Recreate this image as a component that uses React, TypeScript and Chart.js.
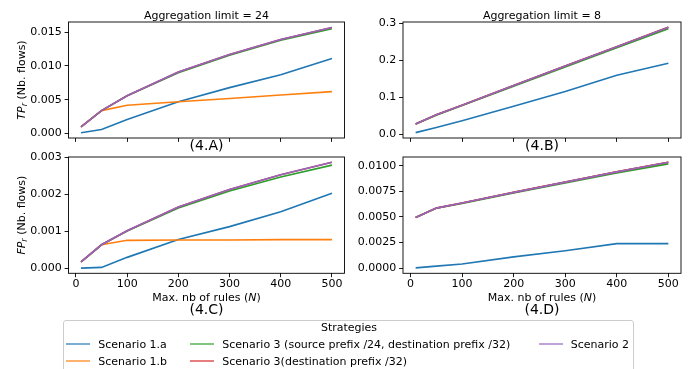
import React, { useEffect, useRef } from "react";
import { Chart, registerables } from "chart.js";

Chart.register(...registerables);

const FONT = "'DejaVu Sans', sans-serif";

// ---------- data ----------
const xValues = [10, 50, 100, 200, 300, 400, 500];
const xTicks = [0, 100, 200, 300, 400, 500];
const xTickLabels = ["0", "100", "200", "300", "400", "500"];

const seriesNames = [
  "Scenario 1.a",
  "Scenario 1.b",
  "Scenario 3 (source prefix /24, destination prefix /32)",
  "Scenario 3(destination prefix /32)",
  "Scenario 2",
];
const seriesColors = ["#1f77b4", "#ff7f0e", "#2ca02c", "#d62728", "#9467bd"];

// (4.A) TP_r, aggregation limit = 24
const tpA_s1a = [0.00012, 0.0006, 0.0021, 0.0047, 0.0068, 0.0087, 0.0111];
const tpA_s1b = [0.001, 0.0034, 0.0042, 0.0047, 0.0052, 0.0057, 0.0062];
const tpA_s3src = [0.001, 0.0034, 0.0056, 0.009, 0.0116, 0.0138, 0.0155];
const tpA_s3dst = [0.001, 0.0034, 0.0056, 0.0091, 0.0117, 0.0139, 0.0157];
const tpA_s2 = [0.001, 0.0034, 0.0056, 0.0091, 0.0117, 0.0139, 0.0157];

// (4.B) TP_r, aggregation limit = 8
const tpB_s1a = [0.005, 0.019, 0.037, 0.076, 0.116, 0.16, 0.192];
const tpB_s1b = [0.028, 0.053, 0.079, 0.132, 0.185, 0.237, 0.289];
const tpB_s3src = [0.028, 0.052, 0.078, 0.13, 0.182, 0.234, 0.285];
const tpB_s3dst = [0.028, 0.053, 0.079, 0.132, 0.185, 0.237, 0.289];
const tpB_s2 = [0.028, 0.053, 0.079, 0.132, 0.185, 0.237, 0.289];

// (4.C) FP_r, aggregation limit = 24
const fpC_s1a = [0.0, 0.00002, 0.00029, 0.00077, 0.00112, 0.00152, 0.00202];
const fpC_s1b = [0.00017, 0.00063, 0.00075, 0.00076, 0.00076, 0.00077, 0.00077];
const fpC_s3src = [0.00017, 0.00063, 0.001, 0.00162, 0.00208, 0.00246, 0.00278];
const fpC_s3dst = [0.00017, 0.00063, 0.00101, 0.00165, 0.00212, 0.00252, 0.00286];
const fpC_s2 = [0.00017, 0.00063, 0.00101, 0.00165, 0.00212, 0.00252, 0.00286];

// (4.D) FP_r, aggregation limit = 8
const fpD_s1a = [0.00003, 0.0002, 0.0004, 0.0011, 0.0017, 0.0024, 0.0024];
const fpD_s1b = [0.00495, 0.00586, 0.00636, 0.0074, 0.0084, 0.0094, 0.01033];
const fpD_s3src = [0.00495, 0.00584, 0.00632, 0.00734, 0.00832, 0.00928, 0.01018];
const fpD_s3dst = [0.00495, 0.00586, 0.00636, 0.0074, 0.0084, 0.0094, 0.01033];
const fpD_s2 = [0.00495, 0.00586, 0.00636, 0.0074, 0.0084, 0.0094, 0.01033];

const yTicksA = [0, 0.005, 0.01, 0.015];
const yTickLabelsA = ["0.000", "0.005", "0.010", "0.015"];
const yTicksB = [0, 0.1, 0.2, 0.3];
const yTickLabelsB = ["0.0", "0.1", "0.2", "0.3"];
const yTicksC = [0, 0.001, 0.002, 0.003];
const yTickLabelsC = ["0.000", "0.001", "0.002", "0.003"];
const yTicksD = [0, 0.0025, 0.005, 0.0075, 0.01];
const yTickLabelsD = ["0.0000", "0.0025", "0.0050", "0.0075", "0.0100"];

const titleA = "Aggregation limit = 24";
const titleB = "Aggregation limit = 8";
const xAxisLabel = "Max. nb of rules (";
const xAxisLabelVar = "N";
const legendTitle = "Strategies";

// ---------- layout ----------
type Panel = {
  key: string;
  cl: number; ct: number; cw: number; ch: number;
  pl: number; pr: number; pt: number; pb: number;
  series: number[][];
  yMin: number; yMax: number; yTicks: number[]; yTickLabels: string[];
  showXTickLabels: boolean;
  title?: string;
  yLabelMain?: string;
  showXLabel: boolean;
  panelLabel: string;
  panelLabelBaseline: number;
};

const X_MIN = -14.5;
const X_MAX = 524.5;

const panels: Panel[] = [
  {
    key: "A", cl: 0, ct: 0, cw: 360, ch: 152,
    pl: 68.5, pr: 344.5, pt: 22, pb: 138,
    series: [tpA_s1a, tpA_s1b, tpA_s3src, tpA_s3dst, tpA_s2],
    yMin: -0.00065, yMax: 0.0165, yTicks: yTicksA, yTickLabels: yTickLabelsA,
    showXTickLabels: false, title: titleA, yLabelMain: "TP", showXLabel: false,
    panelLabel: "(4.A)", panelLabelBaseline: 150,
  },
  {
    key: "B", cl: 345, ct: 0, cw: 346, ch: 152,
    pl: 403, pr: 681, pt: 22, pb: 138,
    series: [tpB_s1a, tpB_s1b, tpB_s3src, tpB_s3dst, tpB_s2],
    yMin: -0.0095, yMax: 0.3035, yTicks: yTicksB, yTickLabels: yTickLabelsB,
    showXTickLabels: false, title: titleB, showXLabel: false,
    panelLabel: "(4.B)", panelLabelBaseline: 150,
  },
  {
    key: "C", cl: 0, ct: 140, cw: 360, ch: 180,
    pl: 68.5, pr: 344.5, pt: 157, pb: 273.3,
    series: [fpC_s1a, fpC_s1b, fpC_s3src, fpC_s3dst, fpC_s2],
    yMin: -0.00014, yMax: 0.003, yTicks: yTicksC, yTickLabels: yTickLabelsC,
    showXTickLabels: true, yLabelMain: "FP", showXLabel: true,
    panelLabel: "(4.C)", panelLabelBaseline: 313.5,
  },
  {
    key: "D", cl: 345, ct: 140, cw: 346, ch: 180,
    pl: 403, pr: 681, pt: 157, pb: 273.3,
    series: [fpD_s1a, fpD_s1b, fpD_s3src, fpD_s3dst, fpD_s2],
    yMin: -0.0005, yMax: 0.01085, yTicks: yTicksD, yTickLabels: yTickLabelsD,
    showXTickLabels: true, showXLabel: true,
    panelLabel: "(4.D)", panelLabelBaseline: 313.5,
  },
];

function drawYLabel(ctx: CanvasRenderingContext2D, main: string, x: number, y: number) {
  ctx.save();
  ctx.translate(x, y);
  ctx.rotate(-Math.PI / 2);
  const fMain = `italic 11px ${FONT}`;
  const fSub = `italic 8px ${FONT}`;
  const fRest = `11px ${FONT}`;
  const rest = " (Nb. flows)";
  ctx.font = fMain;
  const w1 = ctx.measureText(main).width;
  ctx.font = fSub;
  const w2 = ctx.measureText("r").width;
  ctx.font = fRest;
  const w3 = ctx.measureText(rest).width;
  let cx = -(w1 + w2 + w3) / 2;
  ctx.textAlign = "left";
  ctx.textBaseline = "alphabetic";
  ctx.fillStyle = "#000";
  ctx.font = fMain;
  ctx.fillText(main, cx, 0);
  cx += w1;
  ctx.font = fSub;
  ctx.fillText("r", cx, 2.2);
  cx += w2;
  ctx.font = fRest;
  ctx.fillText(rest, cx, 0);
  ctx.restore();
}

function drawXLabel(ctx: CanvasRenderingContext2D, cx: number, y: number) {
  const fR = `11px ${FONT}`;
  const fI = `italic 11px ${FONT}`;
  ctx.font = fR;
  const w1 = ctx.measureText(xAxisLabel).width;
  const w3 = ctx.measureText(")").width;
  ctx.font = fI;
  const w2 = ctx.measureText(xAxisLabelVar).width;
  let x = cx - (w1 + w2 + w3) / 2;
  ctx.textAlign = "left";
  ctx.textBaseline = "alphabetic";
  ctx.fillStyle = "#000";
  ctx.font = fR;
  ctx.fillText(xAxisLabel, x, y);
  x += w1;
  ctx.font = fI;
  ctx.fillText(xAxisLabelVar, x, y);
  x += w2;
  ctx.font = fR;
  ctx.fillText(")", x, y);
}

function PanelChart({ p }: { p: Panel }) {
  const ref = useRef<HTMLCanvasElement | null>(null);
  useEffect(() => {
    if (!ref.current) return;
    const decor = {
      id: "decor" + p.key,
      afterDraw(chart: any) {
        const ctx: CanvasRenderingContext2D = chart.ctx;
        const a = chart.chartArea;
        ctx.save();
        ctx.strokeStyle = "#000";
        ctx.lineWidth = 0.9;
        ctx.strokeRect(a.left, a.top, a.right - a.left, a.bottom - a.top);
        const cx = (a.left + a.right) / 2;
        ctx.fillStyle = "#000";
        ctx.textAlign = "center";
        ctx.textBaseline = "alphabetic";
        if (p.title) {
          ctx.font = `11px ${FONT}`;
          ctx.fillText(p.title, cx, 18.5 - p.ct);
        }
        ctx.font = `14px ${FONT}`;
        ctx.textAlign = "center";
        ctx.fillText(p.panelLabel, cx, p.panelLabelBaseline - p.ct);
        if (p.showXLabel) drawXLabel(ctx, cx, 300.7 - p.ct);
        if (p.yLabelMain) drawYLabel(ctx, p.yLabelMain, 24.8 - p.cl, (a.top + a.bottom) / 2);
        ctx.restore();
      },
    };
    const grid = {
      display: true,
      drawOnChartArea: false,
      drawTicks: true,
      tickLength: 3.9,
      color: "#000",
      lineWidth: 0.9,
    };
    const chart = new Chart(ref.current, {
      type: "line",
      data: {
        datasets: p.series.map((vals, i) => ({
          label: seriesNames[i],
          data: xValues.map((x, j) => ({ x, y: vals[j] })),
          borderColor: seriesColors[i],
          backgroundColor: seriesColors[i],
          borderWidth: 1.6,
          pointRadius: 0,
          tension: 0,
          fill: false,
          order: 5 - i,
        })),
      },
      options: {
        animation: false,
        responsive: false,
        maintainAspectRatio: false,
        events: [],
        layout: {
          padding: {
            top: p.pt - p.ct,
            right: p.cl + p.cw - p.pr,
            left: 0,
            bottom: 0,
          },
        },
        plugins: {
          legend: { display: false },
          tooltip: { enabled: false },
          title: { display: false },
        },
        scales: {
          x: {
            type: "linear",
            min: X_MIN,
            max: X_MAX,
            bounds: "data",
            afterBuildTicks: (s: any) => {
              s.ticks = xTicks.map((v) => ({ value: v }));
            },
            afterFit: (s: any) => {
              s.height = p.ct + p.ch - p.pb;
            },
            ticks: {
              display: p.showXTickLabels,
              callback: (_v: any, i: number) => xTickLabels[i],
              font: { family: FONT, size: 11 },
              color: "#000",
              padding: 0,
              maxRotation: 0,
              autoSkip: false,
            },
            grid,
            border: { display: false },
          },
          y: {
            type: "linear",
            min: p.yMin,
            max: p.yMax,
            bounds: "data",
            afterBuildTicks: (s: any) => {
              s.ticks = p.yTicks.map((v) => ({ value: v }));
            },
            afterFit: (s: any) => {
              s.width = p.pl - p.cl;
            },
            ticks: {
              callback: (_v: any, i: number) => p.yTickLabels[i],
              font: { family: FONT, size: 11 },
              color: "#000",
              padding: 2.8,
              autoSkip: false,
            },
            grid,
            border: { display: false },
          },
        },
      } as any,
      plugins: [decor],
    });
    return () => chart.destroy();
  }, [p]);
  return (
    <canvas
      ref={ref}
      width={p.cw}
      height={p.ch}
      style={{ position: "absolute", left: p.cl, top: p.ct, width: p.cw, height: p.ch }}
    />
  );
}

const legendItems = [
  { idx: 0, hx: 66, tx: 98.3, cy: 344.3 },
  { idx: 1, hx: 66, tx: 98.3, cy: 361.3 },
  { idx: 2, hx: 190, tx: 222.3, cy: 344.3 },
  { idx: 3, hx: 190, tx: 222.3, cy: 361.3 },
  { idx: 4, hx: 539.3, tx: 570.7, cy: 344.3 },
];

export default function App() {
  return (
    <div
      style={{
        position: "fixed",
        left: 0,
        top: 0,
        width: 691,
        height: 369,
        overflow: "hidden",
        background: "#fff",
        fontFamily: FONT,
      }}
    >
      {panels.map((p) => (
        <PanelChart key={p.key} p={p} />
      ))}
      <div
        style={{
          position: "absolute",
          left: 63,
          top: 319.5,
          width: 571,
          height: 80,
          border: "1px solid #cccccc",
          borderRadius: 3,
          background: "rgba(255,255,255,0.8)",
          boxSizing: "border-box",
        }}
      />
      <div
        style={{
          position: "absolute",
          left: 63,
          width: 572,
          top: 327.7 - 6.8,
          lineHeight: "13px",
          fontSize: 11,
          textAlign: "center",
          color: "#000",
          whiteSpace: "nowrap",
        }}
      >
        {legendTitle}
      </div>
      {legendItems.map((it) => (
        <React.Fragment key={it.idx}>
          <div
            style={{
              position: "absolute",
              left: it.hx,
              top: it.cy - 1,
              width: 23.5,
              height: 1.8,
              background: seriesColors[it.idx],
              opacity: 0.6,
            }}
          />
          <div
            style={{
              position: "absolute",
              left: it.tx,
              top: it.cy - 6.8,
              lineHeight: "13px",
              fontSize: 11,
              color: "#000",
              whiteSpace: "nowrap",
            }}
          >
            {seriesNames[it.idx]}
          </div>
        </React.Fragment>
      ))}
    </div>
  );
}
